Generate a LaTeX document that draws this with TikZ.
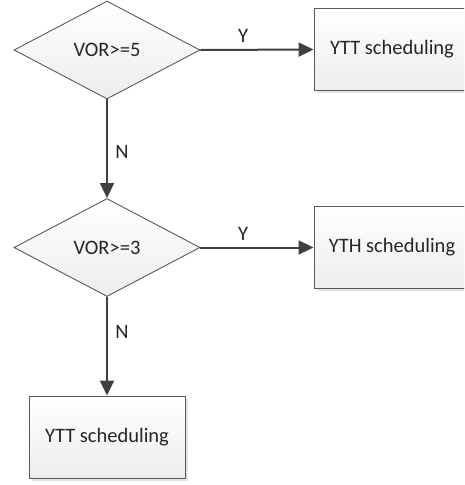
\documentclass[tikz,border=0pt]{standalone}
\usepackage{fontspec}
\setmainfont{Carlito}
\usepackage{tikz}
\usetikzlibrary{shapes.geometric,arrows.meta,shadows}

\definecolor{linegray}{HTML}{404040}
\definecolor{bordergray}{HTML}{5A5A5A}

\begin{document}
\begin{tikzpicture}[x=1pt, y=-1pt, every node/.style={font=\fontsize{20.5}{24}\selectfont, text=black!85}, >={Triangle[length=15pt, width=14pt]},
	decision/.style={diamond, draw=bordergray, line width=0.9pt, top color=white, bottom color=gray!14, minimum width=186pt, minimum height=98pt, aspect=1.9, inner sep=0pt},
	task/.style={rectangle, draw=bordergray, line width=0.9pt, top color=white, bottom color=gray!14, minimum width=156pt, minimum height=82pt, inner sep=0pt, drop shadow={shadow xshift=2.5pt, shadow yshift=-2.5pt, fill=gray!35, opacity=0.6}},
	flow/.style={->, draw=linegray, fill=linegray, line width=2pt}]
	\clip (0,0) rectangle (464,485);
	\node[decision] (vor5) at (107,50) {VOR>=5};
	\node[task] (ytt1) at (392,49.5) {YTT scheduling};
	\node[decision] (vor3) at (107,247.5) {VOR>=3};
	\node[task] (yth) at (392,247.5) {YTH scheduling};
	\node[task] (ytt2) at (107,437) {YTT scheduling};
	% yes branches
	\draw[flow] (vor5.east) -- node[above=3pt, xshift=-14pt] (y1) {Y} (ytt1.west);
	\draw[flow] (vor3.east) -- node[above=3pt, xshift=-14pt] (y2) {Y} (yth.west);
	% no branches
	\draw[flow] (vor5.south) -- node[right=4pt, yshift=-3pt] (n1) {N} (vor3.north);
	\draw[flow] (vor3.south) -- node[right=4pt, yshift=14pt] (n2) {N} (ytt2.north);
\end{tikzpicture}
\end{document}
